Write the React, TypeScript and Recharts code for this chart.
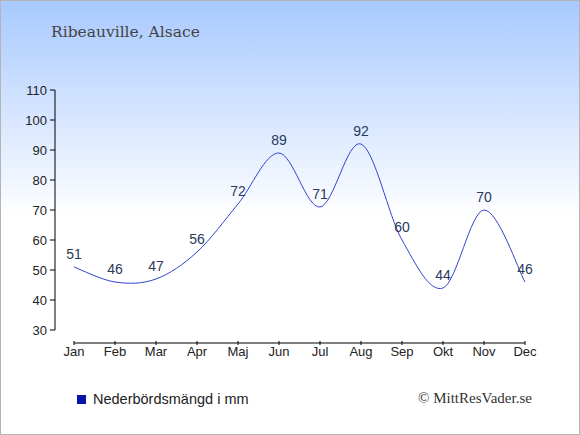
import React from 'react';
import { LineChart, Line, XAxis, YAxis, LabelList, ReferenceLine } from 'recharts';

const MONTHS = ['Jan', 'Feb', 'Mar', 'Apr', 'Maj', 'Jun', 'Jul', 'Aug', 'Sep', 'Okt', 'Nov', 'Dec'];
const PRECIP = [51, 46, 47, 56, 72, 89, 71, 92, 60, 44, 70, 46];
const Y_TICKS = [30, 40, 50, 60, 70, 80, 90, 100, 110];

const data = MONTHS.map((m, i) => ({ idx: i, month: m, value: PRECIP[i] }));

// catmull-rom style curve, passes through every point
const smoothCurve = (ctx: any) => {
    let pts: number[][] = [];
    return {
        areaStart() {},
        areaEnd() {},
        lineStart() { pts = []; },
        point(x: number, y: number) { pts.push([+x, +y]); },
        lineEnd() {
            if (!pts.length) return;
            ctx.moveTo(pts[0][0], pts[0][1]);
            for (let i = 0; i < pts.length - 1; i++) {
                const p0 = pts[i - 1] || pts[i];
                const p1 = pts[i];
                const p2 = pts[i + 1];
                const p3 = pts[i + 2] || p2;
                ctx.bezierCurveTo(
                    p1[0] + (p2[0] - p0[0]) / 6, p1[1] + (p2[1] - p0[1]) / 6,
                    p2[0] - (p3[0] - p1[0]) / 6, p2[1] - (p3[1] - p1[1]) / 6,
                    p2[0], p2[1]
                );
            }
        },
    };
};

const MonthTick = ({ x, y, payload }: any) => (
    <g>
        <line x1={x} x2={x} y1={y + 11} y2={y + 15} stroke="#000" />
        <text x={x} y={y + 26} textAnchor="middle" fontSize={13} fill="#222">{MONTHS[payload.value]}</text>
    </g>
);

const App: React.FC = () => {
    return (
        <div style={{
            position: 'fixed', left: 0, top: 0, width: 580, height: 435, boxSizing: 'border-box',
            border: '1px solid #b4b4b4',
            background: 'linear-gradient(to bottom, #a8c9ff 0%, #ffffff 50%, #ffffff 100%)',
            fontFamily: '"Liberation Sans", Arial, sans-serif',
        }}>
            <div style={{ position: 'absolute', left: 50, top: 22, fontFamily: '"DejaVu Serif", serif', fontSize: 15.5, color: '#444' }}>
                Ribeauville, Alsace
            </div>
            <div style={{ position: 'absolute', left: -1, top: -1 }}>
                <LineChart width={580} height={435} data={data} margin={{ top: 90, right: 55, bottom: 75, left: 0 }}
                    style={{ fontFamily: '"Liberation Sans", Arial, sans-serif' }}>
                    <XAxis type="number" dataKey="idx" domain={[0, 11]} ticks={data.map(d => d.idx)} interval={0}
                        padding={{ left: 19, right: 0 }} axisLine={false} tickLine={false} tickSize={0} tickMargin={0}
                        height={30} tick={<MonthTick />} />
                    <YAxis domain={[30, 110]} ticks={Y_TICKS} interval={0} width={55} tickSize={5} tickMargin={3}
                        axisLine={{ stroke: '#000' }} tickLine={{ stroke: '#000' }}
                        tick={{ fill: '#222', fontSize: 13 }} />
                    <ReferenceLine ifOverflow="visible" stroke="#000"
                        segment={[{ x: 0, y: 30 - 13 / 3 }, { x: 11, y: 30 - 13 / 3 }]} />
                    <Line dataKey="value" type={smoothCurve as any} stroke="#3344cc" strokeWidth={1}
                        dot={false} activeDot={false} isAnimationActive={false}>
                        <LabelList dataKey="value" position="top" offset={8} fill="#2a3a5c" fontSize={14} />
                    </Line>
                </LineChart>
            </div>
            <div style={{ position: 'absolute', left: 76, top: 394, width: 9, height: 9, background: '#0a14aa' }} />
            <div style={{ position: 'absolute', left: 92, top: 389, fontSize: 14.5, color: '#222', lineHeight: '18px' }}>
                Nederbördsmängd i mm
            </div>
            <div style={{ position: 'absolute', left: 417, top: 388, fontSize: 15, color: '#333', lineHeight: '18px', fontFamily: '"Liberation Serif", serif' }}>
                © MittResVader.se
            </div>
        </div>
    );
};

export default App;
